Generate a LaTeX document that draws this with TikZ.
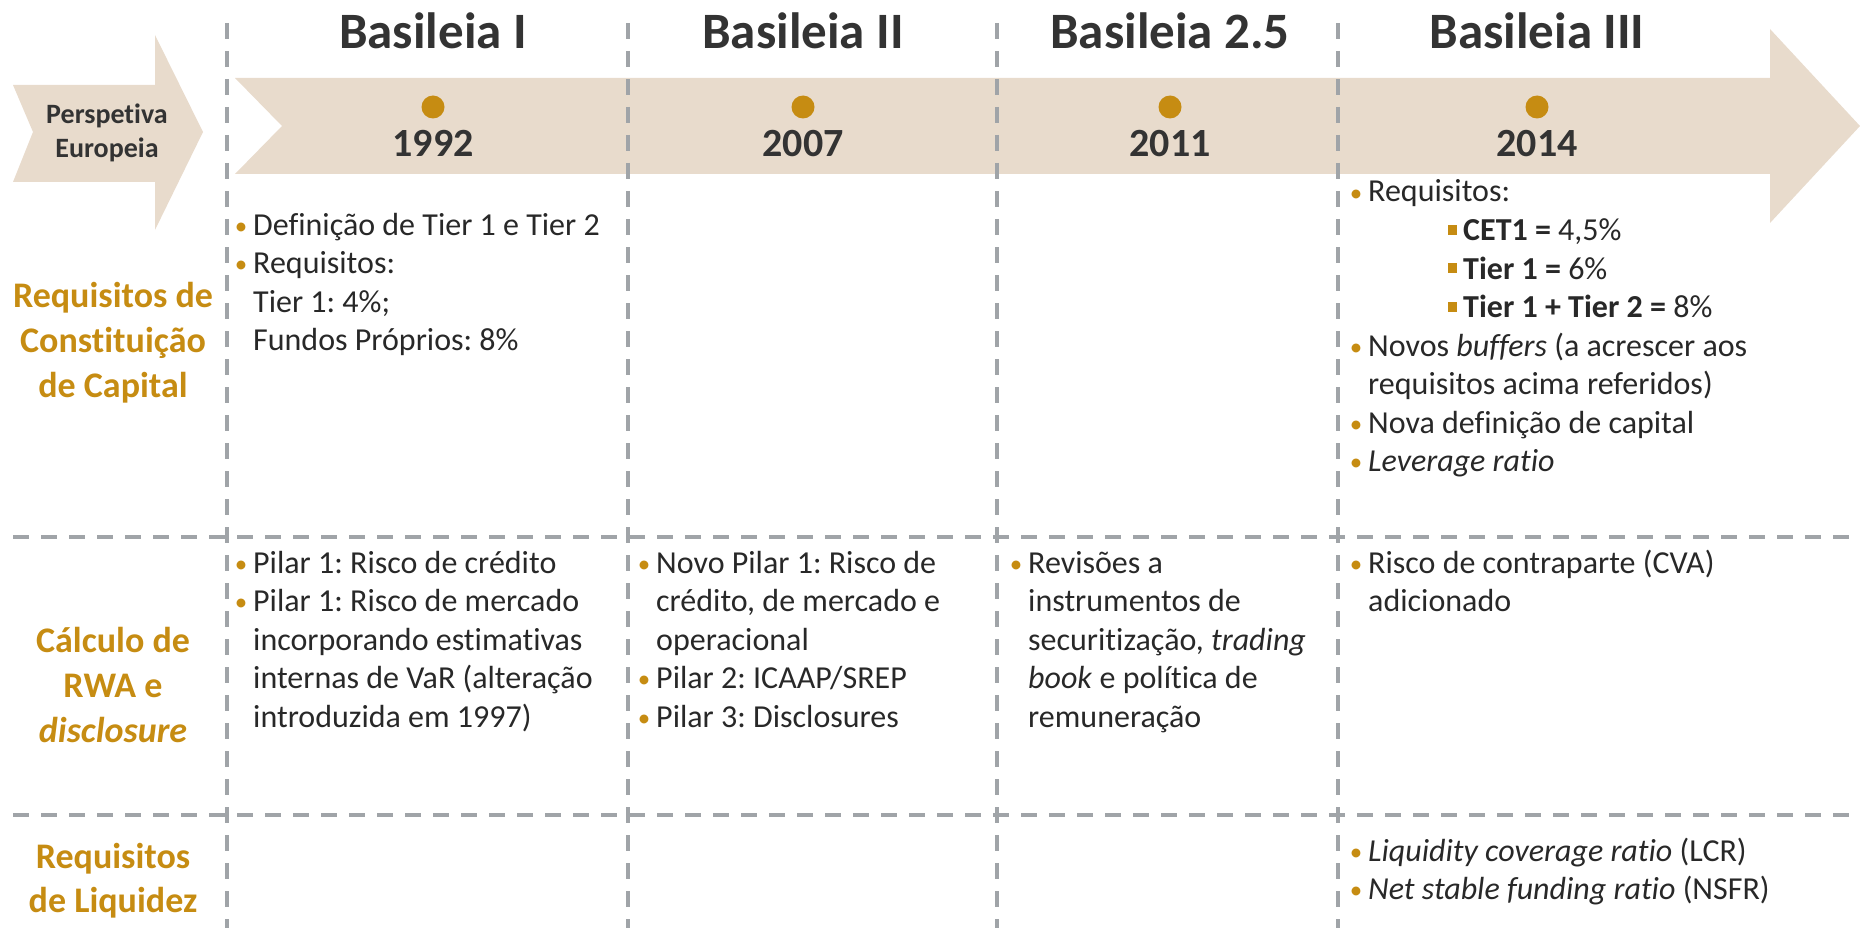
\documentclass[tikz,border=0pt]{standalone}
\usepackage{fontspec}
\setmainfont{Carlito}[Ligatures={NoCommon}]
\frenchspacing
\definecolor{gold}{RGB}{198,140,18}
\definecolor{bandc}{RGB}{232,219,204}
\definecolor{gridgrey}{RGB}{160,164,168}
\definecolor{ink}{RGB}{40,40,40}
\definecolor{headc}{RGB}{51,51,51}
\newcommand{\bul}{\llap{\textcolor{gold}{\fontsize{25}{25}\selectfont\raisebox{1pt}{•}}\hspace{6pt}}}
\newcommand{\sqb}{\llap{\textcolor{gold}{\raisebox{6pt}{\rule{9.5pt}{9.5pt}}}\hspace{6pt}}}
\tikzset{
  titlet/.style={font=\fontsize{51}{60}\selectfont\bfseries, text=headc, anchor=base, inner sep=0},
  yeart/.style={font=\fontsize{40}{48}\selectfont\bfseries, text=headc, anchor=base, inner sep=0},
  bodyt/.style={font=\fontsize{32}{38.5}\selectfont, text=ink, anchor=base west, inner sep=0},
  rowlab/.style={font=\fontsize{36}{45}\selectfont\bfseries, text=gold, anchor=base, inner sep=0},
  persp/.style={font=\fontsize{28}{34}\selectfont\bfseries, text=headc, anchor=base, inner sep=0},
  gridline/.style={draw=gridgrey, line width=4pt, dash pattern=on 16pt off 12pt},
  yeardot/.style={circle, fill=gold, minimum size=23pt, inner sep=0}
}
\begin{document}
\begin{tikzpicture}[x=1pt,y=-1pt]
\useasboundingbox (0,0) rectangle (1860,928);
% band arrows
\fill[bandc] (13,85) -- (155,85) -- (155,35) -- (203,132) -- (155,230) -- (155,182) -- (13,182) -- (33,132) -- cycle;
\fill[bandc] (235,78) -- (1770,78) -- (1770,29) -- (1860,126) -- (1770,223) -- (1770,174) -- (235,174) -- (282,126) -- cycle;
% grid
\foreach \gx in {227,628,997,1338} \draw[gridline] (\gx,23) -- (\gx,928);
\draw[gridline] (13,537) -- (1860,537);
\draw[gridline] (13,815) -- (1860,815);
% perspective
\node[persp] (pa) at (107,124) {Perspetiva};
\node[persp] (pb) at (107,158) {Europeia};
% titles, dots, years
\node[titlet] (t1) at (433,49) {Basileia I};
\node[titlet] (t2) at (803,49) {Basileia II};
\node[titlet] (t3) at (1170,49) {Basileia 2.5};
\node[titlet] (t4) at (1537,49) {Basileia III};
\node[yeardot] (d1) at (433,107) {};
\node[yeardot] (d2) at (803,107) {};
\node[yeardot] (d3) at (1170,107) {};
\node[yeardot] (d4) at (1537,107) {};
\node[yeart] (y1) at (433,157) {1992};
\node[yeart] (y2) at (803,157) {2007};
\node[yeart] (y3) at (1170,157) {2011};
\node[yeart] (y4) at (1537,157) {2014};
% row labels
\node[rowlab] (r1a) at (113,307) {Requisitos de};
\node[rowlab] (r1b) at (113,352) {Constituição};
\node[rowlab] (r1c) at (113,397) {de Capital};
\node[rowlab] (r2a) at (113,652) {Cálculo de};
\node[rowlab] (r2b) at (113,697) {RWA e};
\node[rowlab] (r2c) at (113,742) {\textit{disclosure}};
\node[rowlab] (r3a) at (113,868) {Requisitos};
\node[rowlab] (r3b) at (113,912) {de Liquidez};
% row 1
\foreach \t [count=\i from 0] in {{\bul Definição de Tier 1 e Tier 2},{\bul Requisitos:},{Tier 1: 4\%;},{Fundos Próprios: 8\%}}
  \node[bodyt] (aa\i) at (253,{235+38.5*\i}) {\t};
\foreach \t [count=\i from 0] in {{\bul Requisitos:},{\hspace{95pt}\sqb\textbf{CET1 =} 4,5\%},{\hspace{95pt}\sqb\textbf{Tier 1 =} 6\%},{\hspace{95pt}\sqb\textbf{Tier 1 + Tier 2 =} 8\%},{\bul Novos \textit{buffers} (a acrescer aos},{requisitos acima referidos)},{\bul Nova definição de capital},{\bul \textit{Leverage ratio}}}
  \node[bodyt] (ad\i) at (1368,{202+38.5*\i}) {\t};
% row 2
\foreach \t [count=\i from 0] in {{\bul Pilar 1: Risco de crédito},{\bul Pilar 1: Risco de mercado},{incorporando estimativas},{internas de VaR (alteração},{introduzida em 1997)}}
  \node[bodyt] (ba\i) at (253,{573+38.5*\i}) {\t};
\foreach \t [count=\i from 0] in {{\bul Novo Pilar 1: Risco de},{crédito, de mercado e},{operacional},{\bul Pilar 2: ICAAP/SREP},{\bul Pilar 3: Disclosures}}
  \node[bodyt] (bb\i) at (656,{573+38.5*\i}) {\t};
\foreach \t [count=\i from 0] in {{\bul Revisões a},{instrumentos de},{securitização, \textit{trading}},{\textit{book} e política de},{remuneração}}
  \node[bodyt] (bc\i) at (1028,{573+38.5*\i}) {\t};
\foreach \t [count=\i from 0] in {{\bul Risco de contraparte (CVA)},{adicionado}}
  \node[bodyt] (bd\i) at (1368,{573+38.5*\i}) {\t};
% row 3
\foreach \t [count=\i from 0] in {{\bul \textit{Liquidity coverage ratio} (LCR)},{\bul \textit{Net stable funding ratio} (NSFR)}}
  \node[bodyt] (cd\i) at (1368,{861+38.5*\i}) {\t};
\end{tikzpicture}
\end{document}
